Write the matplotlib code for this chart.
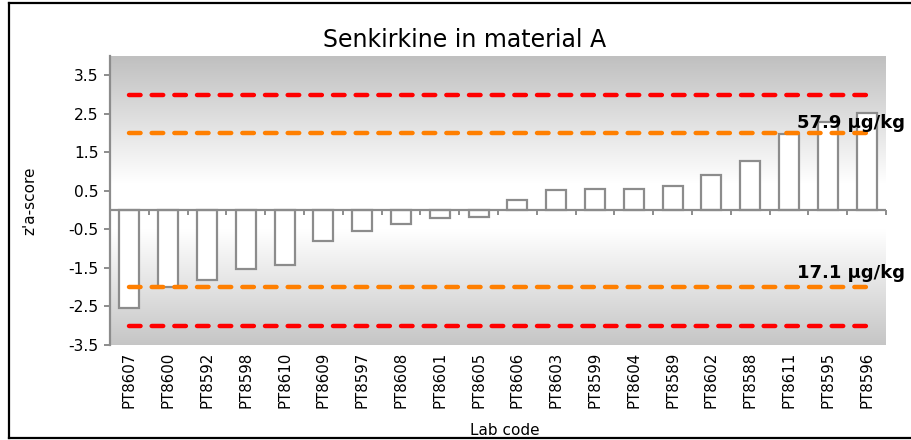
import matplotlib
matplotlib.use("Agg")
import matplotlib.pyplot as plt
import matplotlib.transforms as mtrans
import numpy as np
from matplotlib.lines import Line2D
from matplotlib.colors import LinearSegmentedColormap

labs = ["PT8607", "PT8600", "PT8592", "PT8598", "PT8610", "PT8609", "PT8597",
        "PT8608", "PT8601", "PT8605", "PT8606", "PT8603", "PT8599", "PT8604",
        "PT8589", "PT8602", "PT8588", "PT8611", "PT8595", "PT8596"]
zscores = [-2.54, -2.0, -1.81, -1.53, -1.43, -0.79, -0.53, -0.35, -0.20, -0.18,
           0.25, 0.51, 0.54, 0.56, 0.62, 0.92, 1.28, 1.98, 2.29, 2.52]
limits_red = [3, -3]
limits_orange = [2, -2]
upper_label = "57.9 µg/kg"
lower_label = "17.1 µg/kg"
yticks = [-3.5, -2.5, -1.5, -0.5, 0.5, 1.5, 2.5, 3.5]

W, H = 912, 440
fig = plt.figure(figsize=(W / 100, H / 100), dpi=100)
fig.patch.set_facecolor("white")
plt.rcParams['font.family'] = ['DejaVu Sans']

ax = fig.add_axes([110 / W, (H - 345) / H, (886 - 110) / W, (345 - 56) / H])
ymin, ymax = -3.5, 4.0
n = len(labs)
x = np.arange(n)
ax.set_xlim(-0.5, n - 0.5)
ax.set_ylim(ymin, ymax)

# gradient background (grey at edges, white in the middle)
yy = np.linspace(ymin, ymax, 400)
g = np.clip((np.abs(yy - 0.1) - 0.6) / 3.3, 0, 1)
ax.imshow((1 - g)[:, None], extent=(-0.5, n - 0.5, ymin, ymax), aspect="auto",
          cmap=LinearSegmentedColormap.from_list("g2", ["#c0c0c0", "#ffffff"]),
          vmin=0, vmax=1, origin="lower", zorder=0, interpolation="bilinear")

ax.bar(x, zscores, width=0.52, facecolor="white", edgecolor="#8c8c8c", linewidth=1.6, zorder=2)

for v in limits_red:
    ax.plot([0, n - 1], [v, v], color="#ff0000", lw=3.2, dashes=(2.6, 2.5),
            dash_capstyle="round", zorder=3)
for v in limits_orange:
    ax.plot([0, n - 1], [v, v], color="#ff7f00", lw=3.2, dashes=(2.6, 2.5),
            dash_capstyle="round", zorder=3)

tr = mtrans.blended_transform_factory(ax.transAxes, ax.transData)
ax.text((797 - 110) / 776, 2.27, upper_label, transform=tr,
        fontsize=13, fontweight="bold", va="center", ha="left", clip_on=False, zorder=4)
ax.text((797 - 110) / 776, -1.62, lower_label, transform=tr,
        fontsize=13, fontweight="bold", va="center", ha="left", clip_on=False, zorder=4)

# zero line with boundary ticks
ax.axhline(0, color="#8c8c8c", lw=1.6, zorder=2.5)
sec = ax.secondary_xaxis((0 - ymin) / (ymax - ymin))
sec.set_xticks(np.arange(n + 1) - 0.5)
sec.set_xticklabels([])
sec.tick_params(axis="x", direction="out", length=3.5, width=1.4, color="#8c8c8c")
for s in sec.spines.values():
    s.set_visible(False)

ax.set_xticks(x)
ax.set_xticklabels(labs, rotation=90, fontsize=10.8)
ax.tick_params(axis="x", length=0, pad=5)
ax.set_yticks(yticks)
ax.set_yticklabels([f"{t:.1f}" for t in yticks], fontsize=11.2)
ax.tick_params(axis="y", direction="out", length=4, width=1.4, color="#8c8c8c", pad=4)

for side in ["top", "right", "bottom"]:
    ax.spines[side].set_visible(False)
ax.spines["left"].set_color("#8c8c8c")
ax.spines["left"].set_linewidth(1.6)

fig.text(465 / W, 1 - 40 / H, "Senkirkine in material A", fontsize=17, ha="center", va="center")
ax.set_ylabel("z'a-score", fontsize=11)
ax.yaxis.set_label_coords(-(110 - 37) / 776, 0.5)
ax.set_xlabel("Lab code", fontsize=11)
ax.xaxis.set_label_coords((505 - 110) / 776, -(423 - 345) / 289)

# outer frame (top, left, bottom)
kw = dict(transform=fig.transFigure, color="black", lw=1.6)
fig.add_artist(Line2D([9 / W, 1.0], [1 - 3 / H, 1 - 3 / H], **kw))
fig.add_artist(Line2D([9 / W, 9 / W], [1 - 3 / H, 1 - 438 / H], **kw))
fig.add_artist(Line2D([9 / W, 1.0], [1 - 438 / H, 1 - 438 / H], **kw))

fig.savefig("out.png", dpi=100)
